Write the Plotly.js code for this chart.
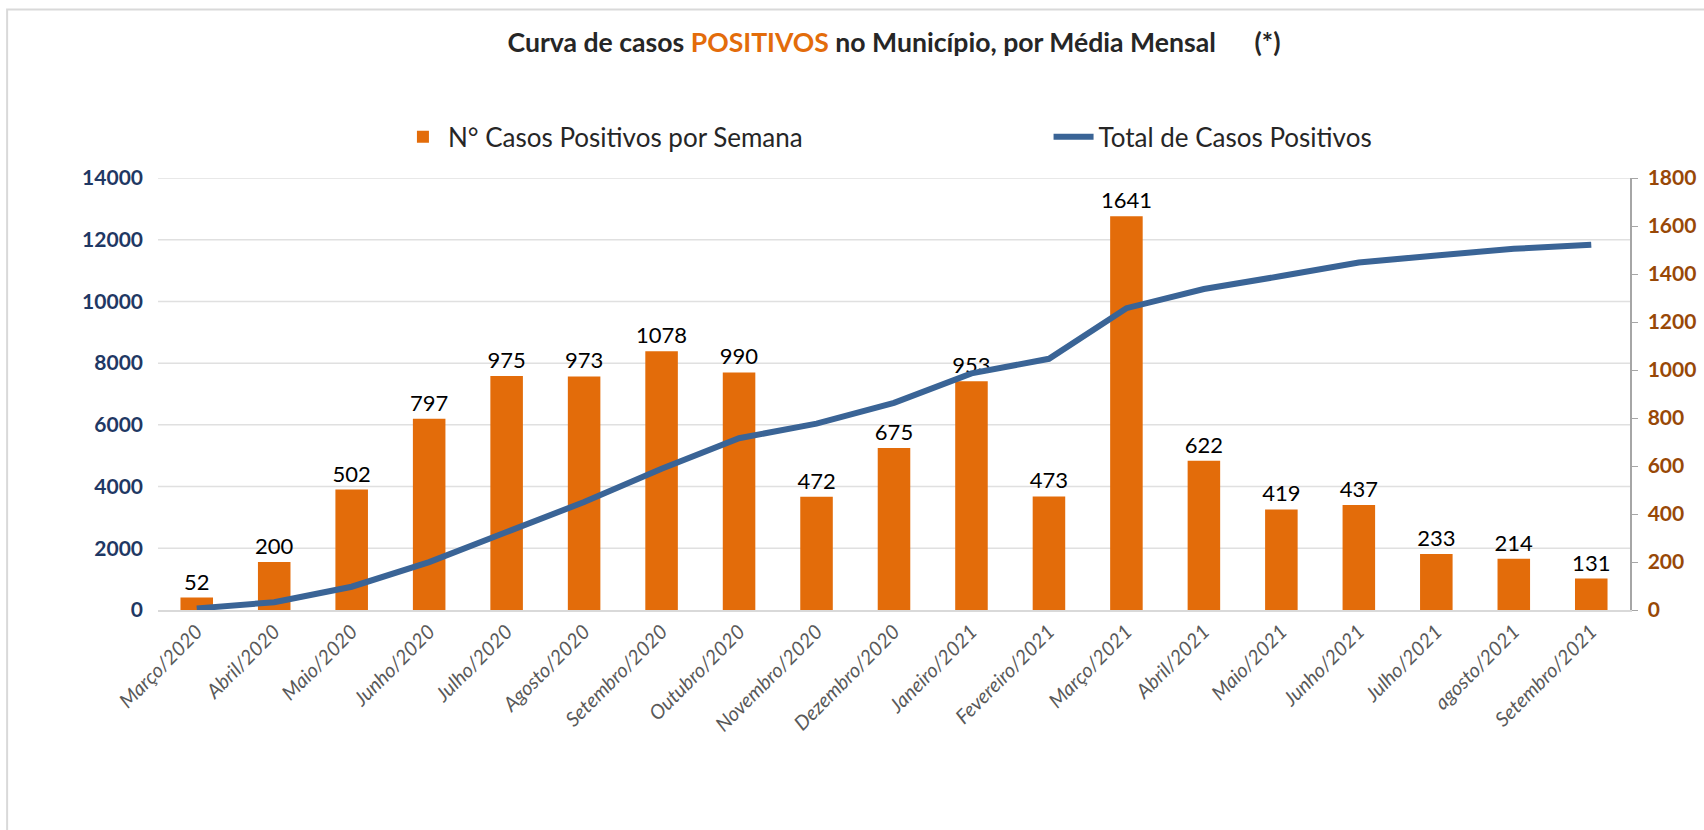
<!DOCTYPE html>
<html>
<head>
<meta charset="utf-8">
<script src="https://cdn.plot.ly/plotly-3.0.1.min.js"></script>
<style>
html,body{margin:0;padding:0;background:#fff;}
#chart{width:1704px;height:830px;}
</style>
</head>
<body>
<div id="chart"></div>
<script>
const months = ["Março/2020","Abril/2020","Maio/2020","Junho/2020","Julho/2020","Agosto/2020","Setembro/2020","Outubro/2020","Novembro/2020","Dezembro/2020","Janeiro/2021","Fevereiro/2021","Março/2021","Abril/2021","Maio/2021","Junho/2021","Julho/2021","agosto/2021","Setembro/2021"];
const positivosMes = [52,200,502,797,975,973,1078,990,472,675,953,473,1641,622,419,437,233,214,131];
const totalPositivos = [52,252,754,1551,2526,3499,4577,5567,6039,6714,7667,8140,9781,10403,10822,11259,11492,11706,11837];
const leftTicks = [0,2000,4000,6000,8000,10000,12000,14000];
const rightTicks = [0,200,400,600,800,1000,1200,1400,1600,1800];

const FONT = "Lato, 'Open Sans', sans-serif";

const bars = {
  type: 'bar',
  name: 'N° Casos Positivos por Semana',
  x: months,
  y: positivosMes,
  yaxis: 'y',
  legend: 'legend',
  marker: {color: '#E36C0A'},
  text: positivosMes.map(String),
  textposition: 'outside',
  constraintext: 'none',
  textfont: {family: FONT, size: 22, color: '#000'},
  cliponaxis: false,
  hoverinfo: 'x+y'
};
const line = {
  type: 'scatter',
  mode: 'lines',
  name: 'Total de Casos Positivos',
  x: months,
  y: totalPositivos,
  yaxis: 'y2',
  legend: 'legend2',
  line: {color: '#3A6496', width: 6},
  hoverinfo: 'x+y'
};

const legendBase = {
  orientation: 'h', y: 1.095, yanchor: 'middle', xanchor: 'left',
  font: {family: FONT, size: 26, color: '#262626'},
  itemwidth: 40, bgcolor: 'rgba(0,0,0,0)'
};

const layout = {
  width: 1704, height: 830,
  margin: {l: 158, r: 74, t: 178, b: 220},
  paper_bgcolor: '#fff', plot_bgcolor: '#fff',
  font: {family: FONT},
  title: {
    text: "<b>Curva de casos <span style='color:#E36C0A'>POSITIVOS</span> no Município, por Média Mensal\u00A0\u00A0\u00A0\u00A0\u00A0\u00A0(*)</b>",
    font: {family: FONT, size: 26.6, color: '#262626'},
    xref: 'paper', x: 0.5, xanchor: 'center', y: 0.948, yanchor: 'middle'
  },
  showlegend: true,
  legend: Object.assign({}, legendBase, {x: 0.163}),
  legend2: Object.assign({}, legendBase, {x: 0.605}),
  bargap: 0.58,
  xaxis: {
    type: 'category',
    tickangle: -45,
    tickfont: {family: FONT, size: 20, color: '#595959', style: 'italic'},
    showgrid: false,
    showline: true, linecolor: '#D9D9D9', linewidth: 2,
    ticks: '', automargin: false
  },
  yaxis: {
    side: 'right',
    range: [0, 1800],
    tickvals: rightTicks,
    tickfont: {family: FONT, size: 21, color: '#984807', weight: 'bold'},
    showgrid: false, zeroline: false,
    showline: true, linecolor: '#A6A6A6', linewidth: 1.5,
    ticks: 'outside', ticklen: 6, tickcolor: '#A6A6A6',
    ticklabelstandoff: 6,
    automargin: false
  },
  yaxis2: {
    overlaying: 'y', side: 'left',
    range: [0, 14000],
    tickvals: leftTicks,
    ticktext: leftTicks.map(String),
    tickfont: {family: FONT, size: 21, color: '#1F3864', weight: 'bold'},
    showgrid: false,
    zeroline: false, showline: false, ticks: '', ticklabelstandoff: 14,
    automargin: false
  },
  shapes: leftTicks.filter(v => v > 0).map(v => ({
    type: 'line', xref: 'paper', yref: 'y2', layer: 'below',
    x0: 0, x1: 1, y0: v, y1: v,
    line: {color: '#E0E0E0', width: 1.5}
  })).concat([{
    type: 'rect', xref: 'paper', yref: 'paper',
    x0: -0.1025, x1: 1.06, y0: -0.53, y1: 1.39,
    line: {color: '#D9D9D9', width: 2}
  }])
};

Plotly.newPlot('chart', [bars, line], layout, {displayModeBar: false, staticPlot: true});
</script>
</body>
</html>
